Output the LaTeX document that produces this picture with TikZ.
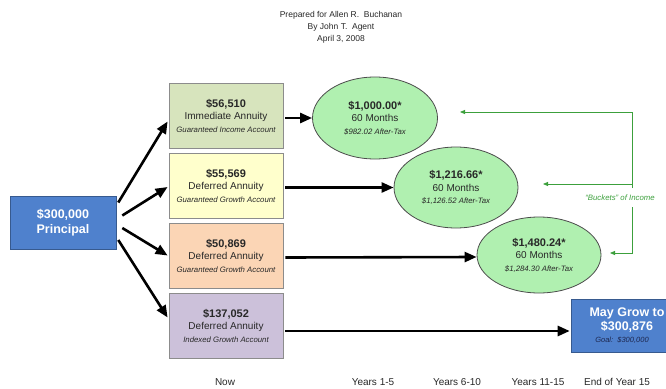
\documentclass[tikz,border=0pt]{standalone}
\usepackage{fontspec}
\setmainfont{Liberation Sans}
\usetikzlibrary{arrows.meta,shapes.geometric,calc}
\definecolor{princ}{RGB}{79,129,205}
\definecolor{bxA}{RGB}{215,228,189}
\definecolor{bxB}{RGB}{255,255,204}
\definecolor{bxC}{RGB}{251,213,181}
\definecolor{bxD}{RGB}{204,193,218}
\definecolor{ellfill}{RGB}{176,240,176}
\definecolor{bucket}{RGB}{60,160,60}
\definecolor{txt}{RGB}{40,40,40}
\definecolor{goalc}{RGB}{30,40,80}
\begin{document}
\begin{tikzpicture}[x=1pt,y=-1pt,
  acct/.style={draw=black!45, line width=0.8pt, minimum width=114pt, minimum height=65pt,
    inner sep=0pt, align=center, text=txt, font=\fontsize{10}{12.5}\selectfont},
  bluebox/.style={fill=princ, draw=princ!70!black, line width=0.6pt, text=white,
    inner sep=0pt, align=center, font=\bfseries\fontsize{12.5}{14.5}\selectfont},
  pay/.style={ellipse, draw=black!70, line width=0.8pt, fill=ellfill, minimum width=125pt,
    minimum height=82pt, inner sep=0pt, align=center, text=txt, font=\fontsize{10}{12.5}\selectfont},
  bigarrow/.style={line width=2.6pt, -{Triangle[length=12pt,width=10pt]}},
  greenarrow/.style={draw=bucket, line width=0.8pt, -{Triangle[length=5pt,width=4pt]}},
  hdr/.style={align=center, text=txt, font=\fontsize{8.5}{12}\selectfont},
  axislbl/.style={text=txt, font=\fontsize{10}{12}\selectfont},
  ttl/.style={font=\bfseries\fontsize{11}{12.5}\selectfont},
  sub/.style={font=\itshape\fontsize{7.8}{12.5}\selectfont}
]
\clip (0,0) rectangle (666,388);
\fill[white] (0,0) rectangle (666,388);

% header
\node[hdr] (head) at (341,27) {Prepared for Allen R.\ \ Buchanan\\By John T.\ \ Agent\\April 3, 2008};

% principal
\node[bluebox, minimum width=106pt, minimum height=53pt] (pr) at (63,222.5) {\$300,000\\Principal};

% accounts
\node[acct, fill=bxA] (b1) at (226,115.5)
  {{\bfseries\fontsize{11}{12.5}\selectfont \$56,510}\\Immediate Annuity\\{\itshape\fontsize{7.8}{12.5}\selectfont Guaranteed Income Account}};
\node[acct, fill=bxB] (b2) at (226,185.5)
  {{\bfseries\fontsize{11}{12.5}\selectfont \$55,569}\\Deferred Annuity\\{\itshape\fontsize{7.8}{12.5}\selectfont Guaranteed Growth Account}};
\node[acct, fill=bxC] (b3) at (226,255.5)
  {{\bfseries\fontsize{11}{12.5}\selectfont \$50,869}\\Deferred Annuity\\{\itshape\fontsize{7.8}{12.5}\selectfont Guaranteed Growth Account}};
\node[acct, fill=bxD] (b4) at (226,325.5)
  {{\bfseries\fontsize{11}{12.5}\selectfont \$137,052}\\Deferred Annuity\\{\itshape\fontsize{7.8}{12.5}\selectfont Indexed Growth Account}};

% payouts
\node[pay] (e1) at (375,118)
  {{\bfseries\fontsize{11}{12.5}\selectfont \$1,000.00*}\\60 Months\\{\itshape\fontsize{7.8}{12.5}\selectfont \$982.02 After-Tax}};
\node[pay, minimum width=124pt, minimum height=81pt] (e2) at (456,187.5)
  {{\bfseries\fontsize{11}{12.5}\selectfont \$1,216.66*}\\60 Months\\{\itshape\fontsize{7.8}{12.5}\selectfont \$1,126.52 After-Tax}};
\node[pay, minimum width=124pt, minimum height=76pt] (e3) at (539,255)
  {{\bfseries\fontsize{11}{12.5}\selectfont \$1,480.24*}\\60 Months\\{\itshape\fontsize{7.8}{12.5}\selectfont \$1,284.30 After-Tax}};

% growth
\node[bluebox, minimum width=112pt, minimum height=53pt] (may) at (627,325.5)
  {May Grow to\\\$300,876\\[-3pt]{\mdseries\itshape\color{goalc}\fontsize{7.5}{8}\selectfont Goal:\ \ \$300,000\hspace*{10pt}}};

% principal arrows
\draw[bigarrow] ($(pr.east)+(2,-20)$) -- ($(b1.west)+(-1,6)$);
\draw[bigarrow] ($(pr.east)+(6,-7)$) -- ($(b2.west)+(-1,1.5)$);
\draw[bigarrow] ($(pr.east)+(6,5.5)$) -- ($(b3.west)+(-1,0)$);
\draw[bigarrow] ($(pr.east)+(2,17.5)$) -- ($(b4.west)+(-1,-8)$);

% account arrows
\draw[bigarrow] ($(b1.east)+(2,2.5)$) -- (e1.west);
\draw[bigarrow] ($(b2.east)+(2,2)$) -- (e2.west);
\draw[bigarrow] ($(b3.east)+(2,2)$) -- ($(e3.west)+(0,2)$);
\draw[bigarrow] ($(b4.east)+(2,5.5)$) -- ($(may.west)+(-1,5.5)$);

% buckets of income
\node[text=bucket, font=\itshape\fontsize{7.8}{9}\selectfont] (bk) at (620,198) {``Buckets'' of Income};
\coordinate (gvTop) at (632,112);
\coordinate (gvGapA) at (632,188);
\coordinate (gvMid) at (632,184);
\coordinate (gvGapB) at (632,207);
\coordinate (gvBot) at (632,253);
\coordinate (t1) at (460,112);
\coordinate (t2) at (543,184);
\coordinate (t3) at (610,253);
\draw[greenarrow] (gvGapA) -- (gvTop) -- (t1);
\draw[greenarrow] (gvMid) -- (t2);
\draw[greenarrow] (gvGapB) -- (gvBot) -- (t3);

% time axis labels
\node[axislbl] (now) at (225,382) {Now};
\node[axislbl] (y1) at (373,382) {Years 1-5};
\node[axislbl] (y2) at (457,382) {Years 6-10};
\node[axislbl] (y3) at (538,382) {Years 11-15};
\node[axislbl] (y4) at (617,382) {End of Year 15};
\end{tikzpicture}
\end{document}
